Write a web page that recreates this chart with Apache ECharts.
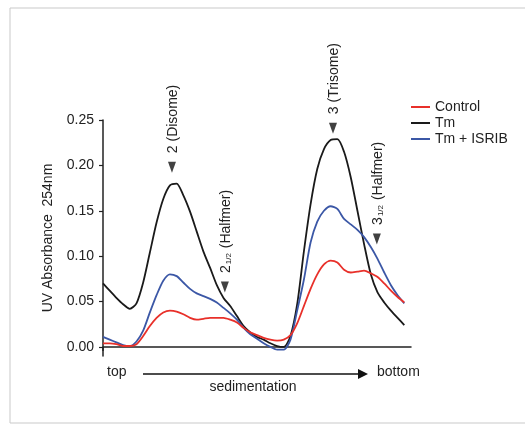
<!DOCTYPE html>
<html>
<head>
<meta charset="utf-8">
<script src="https://cdn.jsdelivr.net/npm/echarts@6/dist/echarts.min.js"></script>
<style>
  html, body { margin: 0; padding: 0; background: #fff; }
  #chart { width: 525px; height: 424px; }
</style>
</head>
<body>
<div id="chart"></div>
<script>
// 沉降位置（梯度上的采样点，top -> bottom）
const positions = [0, 1, 2, 3, 4, 5, 6, 7, 8, 9, 10, 11, 12, 13, 14, 15, 16, 17, 18, 19, 20, 21, 22,
    23, 24, 25, 26, 27, 28, 29, 30, 31, 32, 33, 34, 35, 36, 37, 38, 39, 40, 41, 42, 43, 44, 45];

// UV 254nm 吸光度
const controlValues = [0.004, 0.004, 0.003, 0.001, 0.001, 0.003, 0.012, 0.023, 0.032, 0.038, 0.040, 0.039,
    0.036, 0.032, 0.030, 0.031, 0.032, 0.032, 0.032, 0.030, 0.027, 0.021, 0.016, 0.013, 0.010, 0.008,
    0.007, 0.008, 0.013, 0.026, 0.045, 0.064, 0.080, 0.091, 0.095, 0.093, 0.085, 0.082, 0.083, 0.084,
    0.081, 0.077, 0.070, 0.062, 0.055, 0.049];
const tmValues = [0.070, 0.062, 0.054, 0.047, 0.042, 0.048, 0.071, 0.104, 0.137, 0.163, 0.178, 0.180,
    0.167, 0.149, 0.127, 0.105, 0.087, 0.068, 0.054, 0.045, 0.034, 0.023, 0.016, 0.011, 0.008, 0.004,
    0.001, 0.000, 0.012, 0.047, 0.105, 0.157, 0.196, 0.218, 0.228, 0.229, 0.215, 0.187, 0.150, 0.113,
    0.080, 0.060, 0.049, 0.040, 0.032, 0.024];
const isribValues = [0.011, 0.008, 0.005, 0.002, 0.001, 0.006, 0.018, 0.038, 0.057, 0.073, 0.080, 0.078,
    0.071, 0.064, 0.059, 0.056, 0.053, 0.049, 0.043, 0.037, 0.030, 0.021, 0.014, 0.009, 0.004, 0.000,
    -0.003, -0.003, 0.008, 0.040, 0.074, 0.115, 0.138, 0.150, 0.155, 0.152, 0.141, 0.135, 0.129, 0.121,
    0.110, 0.097, 0.082, 0.068, 0.057, 0.048];

// 多聚体峰标注
const peakLabels = ['2 (Disome)', '2{s|1/2} (Halfmer)', '3 (Trisome)', '3{s|1/2} (Halfmer)'];
const peakX = [10.3, 18.2, 34.35, 40.9];
const peakY = [0.198, 0.066, 0.241, 0.119];

const yTicks = [0, 0.05, 0.10, 0.15, 0.20, 0.25];

const FONT = 'Liberation Sans, Arial, Helvetica, sans-serif';

function pairs(xs, ys) {
    return xs.map((x, i) => [x, ys[i]]);
}

const chart = echarts.init(document.getElementById('chart'));

const option = {
    animation: false,
    textStyle: { fontFamily: FONT },
    grid: { left: 103, right: 114, top: 120, bottom: 68 },
    legend: {
        orient: 'vertical',
        left: 406,
        top: 94,
        icon: 'rect',
        itemWidth: 19,
        itemHeight: 2,
        itemGap: 0,
        textStyle: { fontSize: 14, color: '#222', fontFamily: FONT, lineHeight: 16 },
        data: ['Control', 'Tm', 'Tm + ISRIB']
    },
    xAxis: {
        type: 'value',
        min: 0,
        max: 46,
        splitLine: { show: false },
        axisLine: { lineStyle: { color: '#222', width: 1.5 } },
        axisTick: { show: true, customValues: [0], length: 4, lineStyle: { color: '#222', width: 1.5 } },
        axisLabel: { show: false }
    },
    yAxis: {
        type: 'value',
        min: -0.01,
        max: 0.25,
        splitLine: { show: false },
        axisLine: { show: true, lineStyle: { color: '#222', width: 1.5 } },
        axisTick: { show: true, customValues: yTicks, length: 4, lineStyle: { color: '#222', width: 1.2 } },
        axisLabel: {
            customValues: yTicks,
            margin: 9,
            fontSize: 14,
            color: '#222',
            formatter: v => v.toFixed(2)
        },
        name: 'UV Absorbance  254nm',
        nameLocation: 'middle',
        nameGap: 48,
        nameTextStyle: { fontSize: 14, color: '#222' }
    },
    series: [
        {
            name: 'Control',
            type: 'line',
            symbol: 'none',
            smooth: 0.25,
            lineStyle: { color: '#e8302a', width: 1.8 },
            itemStyle: { color: '#e8302a' },
            data: pairs(positions, controlValues),
            z: 3
        },
        {
            name: 'Tm',
            type: 'line',
            symbol: 'none',
            smooth: 0.25,
            lineStyle: { color: '#1a1a1a', width: 1.8 },
            itemStyle: { color: '#1a1a1a' },
            data: pairs(positions, tmValues),
            z: 2
        },
        {
            name: 'Tm + ISRIB',
            type: 'line',
            symbol: 'none',
            smooth: 0.25,
            lineStyle: { color: '#3b57a6', width: 1.8 },
            itemStyle: { color: '#3b57a6' },
            data: pairs(positions, isribValues),
            z: 2
        },
        {
            name: 'peaks',
            type: 'scatter',
            symbol: 'triangle',
            symbolRotate: 180,
            symbolSize: [8, 11],
            itemStyle: { color: '#111' },
            silent: true,
            data: pairs(peakX, peakY)
        }
    ]
};

chart.setOption(option);

// 峰标注文字（竖排）以及底部的沉降方向说明
const graphics = [
    {
        type: 'rect',
        shape: { x: 10, y: 8, width: 530, height: 415 },
        style: { fill: 'none', stroke: '#c9c9c9', lineWidth: 1 },
        silent: true
    }
];

peakX.forEach((x, i) => {
    const p = chart.convertToPixel({ gridIndex: 0 }, [x, peakY[i]]);
    graphics.push({
        type: 'text',
        x: p[0] + 1,
        y: p[1] - 14,
        rotation: Math.PI / 2,
        style: {
            text: peakLabels[i],
            fontSize: 14,
            fontFamily: FONT,
            fill: '#222',
            align: 'left',
            verticalAlign: 'middle',
            rich: {
                s: { fontSize: 8, fontFamily: FONT, fill: '#222', verticalAlign: 'bottom', padding: [6, 1, 0, 1] }
            }
        }
    });
});

graphics.push(
    {
        type: 'text', x: 107, y: 372,
        style: { text: 'top', fontSize: 14, fontFamily: FONT, fill: '#222', verticalAlign: 'middle' }
    },
    {
        type: 'line',
        shape: { x1: 143, y1: 374, x2: 360, y2: 374 },
        style: { stroke: '#111', lineWidth: 1.5 }
    },
    {
        type: 'polygon',
        shape: { points: [[358, 369], [368, 374], [358, 379]] },
        style: { fill: '#111' }
    },
    {
        type: 'text', x: 377, y: 372,
        style: { text: 'bottom', fontSize: 14, fontFamily: FONT, fill: '#222', verticalAlign: 'middle' }
    },
    {
        type: 'text', x: 253, y: 387,
        style: { text: 'sedimentation', fontSize: 14, fontFamily: FONT, fill: '#222', align: 'center', verticalAlign: 'middle' }
    }
);

chart.setOption({ graphic: graphics });

window.addEventListener('resize', function () {
    chart.resize();
});
</script>
</body>
</html>
